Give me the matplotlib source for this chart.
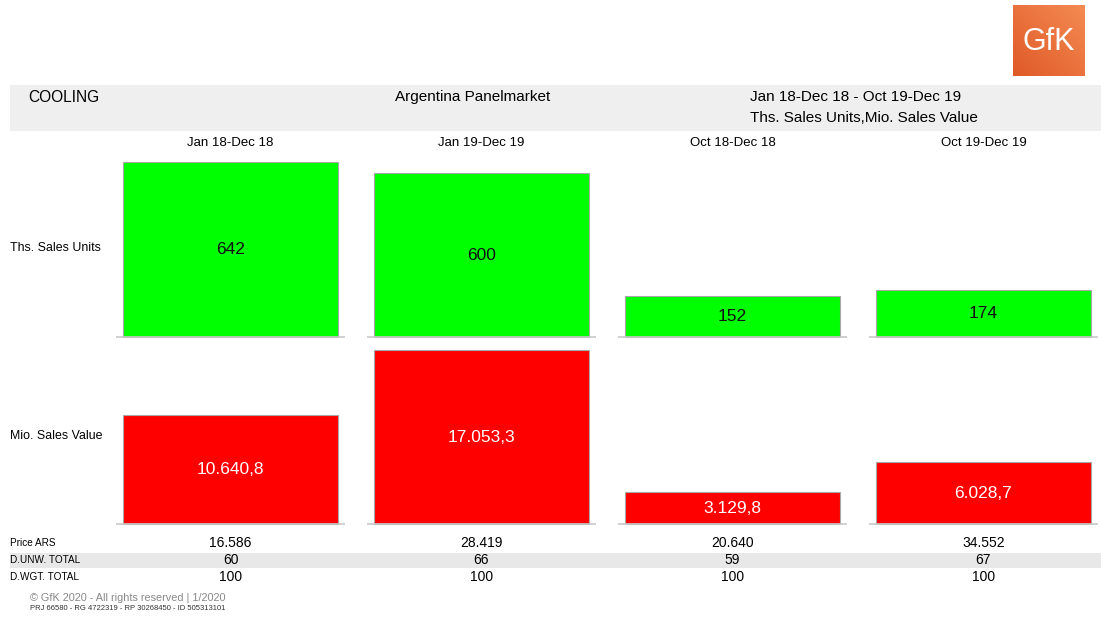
import matplotlib.pyplot as plt
from matplotlib.patches import Rectangle
import numpy as np

plt.rcParams['font.family'] = ['Liberation Sans', 'DejaVu Sans']

# data
periods = ['Jan 18-Dec 18', 'Jan 19-Dec 19', 'Oct 18-Dec 18', 'Oct 19-Dec 19']
units = [642, 600, 152, 174]
units_labels = ['642', '600', '152', '174']
value = [10640.8, 17053.3, 3129.8, 6028.7]
value_labels = ['10.640,8', '17.053,3', '3.129,8', '6.028,7']
price = ['16.586', '28.419', '20.640', '34.552']
d_unw = ['60', '66', '59', '67']
d_wgt = ['100', '100', '100', '100']

W, H = 1101, 618
fig = plt.figure(figsize=(W / 100, H / 100), dpi=100)


def fx(px):
    return px / W


def fy(py):
    return 1 - py / H


# header band
fig.patches.append(Rectangle((fx(10), fy(131)), fx(1091), 46 / H, transform=fig.transFigure,
                             facecolor='#efefef', edgecolor='none', zorder=0))
fig.text(fx(28), fy(97), 'COOLING', fontsize=11.2, va='center', ha='left')
fig.text(fx(473), fy(97), 'Argentina Panelmarket', fontsize=11, va='center', ha='center')
fig.text(fx(750), fy(97), 'Jan 18-Dec 18 - Oct 19-Dec 19', fontsize=11, va='center', ha='left')
fig.text(fx(750), fy(118), 'Ths. Sales Units,Mio. Sales Value', fontsize=11, va='center', ha='left')

# logo
lax = fig.add_axes([fx(1013), fy(76), 72 / W, 71 / H])
gx, gy = np.meshgrid(np.linspace(0, 1, 50), np.linspace(0, 1, 50))
grad = gx * 0.5 + (1 - gy) * 0.5
lax.imshow(grad, cmap=plt.matplotlib.colors.LinearSegmentedColormap.from_list(
    'gfk', ['#e05a28', '#f48a52']), extent=[0, 1, 0, 1], aspect='auto')
lax.text(0.5, 0.48, 'GfK', color='white', fontsize=22, ha='center', va='center')
lax.set_axis_off()

# bar rows
x = np.arange(len(periods))
left_px, right_px = 105, 1097
span = 251.0
xlim = (-0.5, -0.5 + (right_px - left_px) / span)
bw = 215 / span


def row(top_px, base_px, vals, labels, color, txtcolor):
    ax = fig.add_axes([fx(left_px), fy(base_px), (right_px - left_px) / W, (base_px - top_px) / H])
    ax.bar(x, vals, width=bw, color=color, edgecolor='#a8a8a8', linewidth=0.8, clip_on=False)
    ax.hlines([0] * len(x), x - 0.455, x + 0.455, color='#c8c8c8', linewidth=1.2, clip_on=False)
    for xi, v, lab in zip(x, vals, labels):
        ax.text(xi, v / 2, lab, ha='center', va='center', fontsize=12.5, color=txtcolor)
    ax.set_xlim(*xlim)
    ax.set_ylim(0, max(vals))
    ax.set_axis_off()
    return ax


row(162, 337, units, units_labels, '#00ff00', '#111111')
row(350, 524, value, value_labels, '#ff0000', 'white')

centers_px = [230.5 + i * span for i in range(len(periods))]
for cx, p in zip(centers_px, periods):
    fig.text(fx(cx), fy(143), p, fontsize=9.5, ha='center', va='center')

fig.text(fx(10), fy(248), 'Ths. Sales Units', fontsize=8.9, ha='left', va='center')
fig.text(fx(10), fy(436), 'Mio. Sales Value', fontsize=8.9, ha='left', va='center')

# table
fig.patches.append(Rectangle((fx(10), fy(568)), fx(1091), 15 / H, transform=fig.transFigure,
                             facecolor='#e8e8e8', edgecolor='none', zorder=0))
rows = [('Price ARS', price, 543), ('D.UNW. TOTAL', d_unw, 560), ('D.WGT. TOTAL', d_wgt, 577)]
for name, vals, yy in rows:
    fig.text(fx(10), fy(yy), name, fontsize=7.2, ha='left', va='center')
    for cx, v in zip(centers_px, vals):
        fig.text(fx(cx), fy(yy), v, fontsize=10, ha='center', va='center')

# footer
fig.text(fx(30), fy(598), '\u00a9 GfK 2020 - All rights reserved | 1/2020', fontsize=7.8,
         color='#888888', ha='left', va='center')
fig.text(fx(30), fy(609), 'PRJ 66580 - RG 4722319 - RP 30268450 - ID 505313101', fontsize=5.5,
         color='#333333', ha='left', va='center')

fig.savefig('out.png', dpi=100)
